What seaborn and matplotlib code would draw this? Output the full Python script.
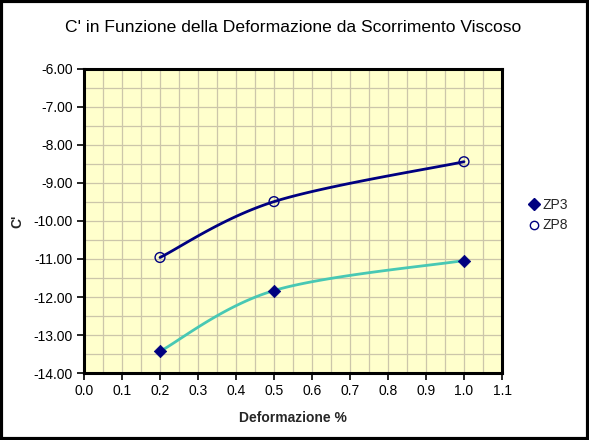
import numpy as np
import pandas as pd
import matplotlib
matplotlib.use("Agg")
import matplotlib.pyplot as plt
from matplotlib.ticker import MultipleLocator, FormatStrFormatter
from matplotlib.lines import Line2D
from matplotlib.patches import Rectangle
import seaborn as sns

# ---- data ----
deformazione = [0.2, 0.5, 1.0]
zp3 = [-13.43, -11.83, -11.04]
zp8 = [-10.96, -9.49, -8.44]
series_names = ["ZP3", "ZP8"]
title = "C' in Funzione della Deformazione da Scorrimento Viscoso"
xlabel = "Deformazione %"
ylabel = "C'"

sns.set_theme(style="white")
plt.rcParams['font.family'] = ['Liberation Sans', 'DejaVu Sans']

fig = plt.figure(figsize=(5.89, 4.40), dpi=100)
fig.patch.set_facecolor("white")
ax = fig.add_axes([84/589, 1-373/440, (502-84)/589, (373-69)/440])
ax.set_facecolor("#FFFFCC")

XMIN, XMAX, YMIN, YMAX = 0.0, 1.1, -14.0, -6.0
W, H = 418.0, 304.0

def smooth(xs, ys, n=60):
    # Excel-like smoothed line (cubic Bezier) computed in screen space
    P = np.column_stack([(np.array(xs) - XMIN) / (XMAX - XMIN) * W,
                         (np.array(ys) - YMIN) / (YMAX - YMIN) * H])
    out = []
    k = len(P)
    t = np.linspace(0, 1, n)[:, None]
    for i in range(k - 1):
        pm = P[i - 1] if i > 0 else P[i]
        pp = P[i + 2] if i + 2 < k else P[i + 1]
        c1 = P[i] + (P[i + 1] - pm) / 6
        c2 = P[i + 1] - (pp - P[i]) / 6
        seg = ((1 - t) ** 3) * P[i] + 3 * ((1 - t) ** 2) * t * c1 + 3 * (1 - t) * t ** 2 * c2 + t ** 3 * P[i + 1]
        out.append(seg if i == 0 else seg[1:])
    S = np.vstack(out)
    return S[:, 0] / W * (XMAX - XMIN) + XMIN, S[:, 1] / H * (YMAX - YMIN) + YMIN

sx3, sy3 = smooth(deformazione, zp3)
sx8, sy8 = smooth(deformazione, zp8)
sns.lineplot(x=sx8, y=sy8, sort=False, estimator=None, color="#000080", lw=2.0, ax=ax, legend=False)
sns.lineplot(x=sx3, y=sy3, sort=False, estimator=None, color="#48C8B4", lw=2.0, ax=ax, legend=False)

df = pd.DataFrame({"x": deformazione * 2, "y": zp3 + zp8,
                   "s": [series_names[0]] * 3 + [series_names[1]] * 3})
sns.scatterplot(data=df[df.s == "ZP3"], x="x", y="y", marker="D", s=40, color="#000080",
                edgecolor="#000080", ax=ax, legend=False, zorder=5)
ax.scatter(df[df.s == "ZP8"].x, df[df.s == "ZP8"].y, marker="o", s=50, facecolors="none",
           edgecolors="#000080", linewidths=1.0, zorder=5)

ax.set_xlim(XMIN, XMAX)
ax.set_ylim(YMIN, YMAX)
ax.xaxis.set_major_locator(MultipleLocator(0.1))
ax.xaxis.set_minor_locator(MultipleLocator(0.05))
ax.yaxis.set_major_locator(MultipleLocator(1))
ax.yaxis.set_minor_locator(MultipleLocator(0.5))
ax.xaxis.set_major_formatter(FormatStrFormatter("%.1f"))
ax.yaxis.set_major_formatter(FormatStrFormatter("%.2f"))
ax.grid(True, which="both", color="#CCC6AA", lw=0.9)
ax.set_axisbelow(True)
ax.tick_params(axis="both", which="major", direction="out", length=5, width=1.2,
               colors="black", labelsize=10, bottom=True, left=True, pad=3)
ax.tick_params(axis="both", which="minor", length=0)
for sp in ax.spines.values():
    sp.set_color("black")
    sp.set_linewidth(2.2)

ax.set_xlabel(xlabel, fontsize=10, fontweight="bold")
ax.xaxis.set_label_coords((293-84)/418, -(411-373)/304)
ax.set_ylabel(ylabel, fontsize=10, fontweight="bold")
ax.yaxis.set_label_coords(-(84-24)/418, (373-221)/304)
fig.text(293/589, 1-27/440, title, ha="center", va="center", fontsize=12.6, color="black")

handles = [Line2D([], [], marker="D", color="#000080", ls="none", markersize=6),
           Line2D([], [], marker="o", markerfacecolor="white", markeredgecolor="#000080", ls="none", markersize=6)]
fig.legend(handles, series_names, loc="center left", bbox_to_anchor=(515/589, 1-215/440),
           frameon=False, fontsize=10, handletextpad=0.1, labelspacing=0.5, handlelength=1.0)

fig.patches.append(Rectangle((0.002, 0.003), 0.996, 0.994, transform=fig.transFigure,
                             fill=False, edgecolor="black", lw=3))

fig.savefig("out.png", dpi=100)
